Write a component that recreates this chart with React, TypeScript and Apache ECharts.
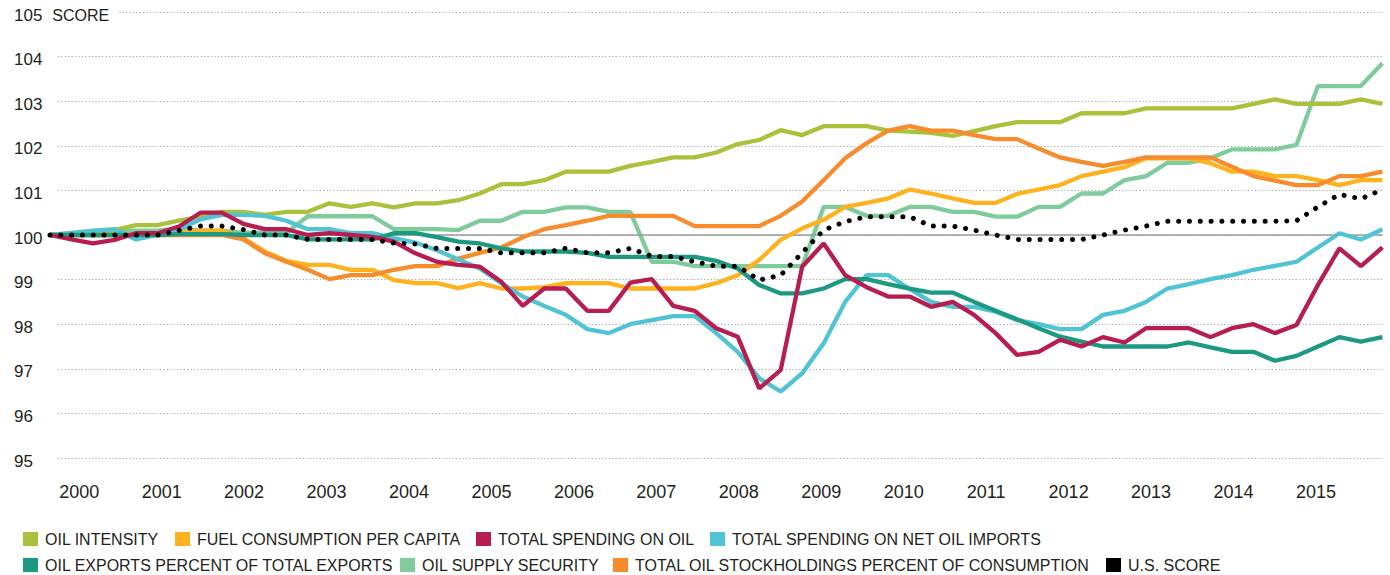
import React, { useEffect, useRef } from "react";
import * as echarts from "echarts";

// ---------- data ----------
const YEAR_LABELS = [2000, 2001, 2002, 2003, 2004, 2005, 2006, 2007, 2008, 2009, 2010, 2011, 2012, 2013, 2014, 2015];
const Y_UNIT = "SCORE";
const Y_MIN = 95;
const Y_MAX = 105;

const QUARTERS: string[] = [];
for (const y of YEAR_LABELS) for (const q of [1, 2, 3, 4]) if (QUARTERS.length < 63) QUARTERS.push(`${y} Q${q}`);

const OIL_INTENSITY = [
  100.0, 100.0, 100.05, 100.11, 100.22, 100.22, 100.32, 100.41, 100.52, 100.52, 100.45, 100.52, 100.52, 100.71, 100.63, 100.71,
  100.62, 100.71, 100.71, 100.78, 100.93, 101.14, 101.14, 101.23, 101.42, 101.42, 101.42, 101.55, 101.64, 101.74, 101.74, 101.85,
  102.04, 102.13, 102.35, 102.24, 102.44, 102.44, 102.44, 102.34, 102.32, 102.29, 102.22, 102.33, 102.44, 102.53, 102.53, 102.53,
  102.73, 102.73, 102.73, 102.84, 102.84, 102.84, 102.84, 102.84, 102.94, 103.04, 102.94, 102.94, 102.94, 103.04, 102.94,
];
const FUEL_CONSUMPTION = [
  100.0, 100.0, 100.0, 100.0, 100.0, 100.0, 100.05, 100.1, 100.1, 99.93, 99.63, 99.42, 99.33, 99.33, 99.22, 99.22,
  98.99, 98.92, 98.92, 98.81, 98.92, 98.8, 98.8, 98.83, 98.92, 98.92, 98.92, 98.8, 98.8, 98.8, 98.8, 98.92,
  99.1, 99.44, 99.89, 100.15, 100.34, 100.63, 100.72, 100.82, 101.02, 100.93, 100.82, 100.72, 100.72, 100.92, 101.02, 101.12,
  101.32, 101.42, 101.52, 101.72, 101.72, 101.72, 101.61, 101.42, 101.42, 101.32, 101.32, 101.23, 101.12, 101.23, 101.23,
];
const SPENDING_ON_OIL = [
  100.0, 99.9, 99.81, 99.89, 100.04, 100.04, 100.19, 100.5, 100.5, 100.25, 100.13, 100.13, 100.0, 100.04, 100.0, 99.96,
  99.85, 99.59, 99.4, 99.33, 99.29, 98.95, 98.41, 98.8, 98.8, 98.3, 98.3, 98.93, 99.01, 98.41, 98.3, 97.91,
  97.72, 96.56, 96.97, 99.29, 99.81, 99.1, 98.83, 98.62, 98.62, 98.39, 98.5, 98.21, 97.8, 97.31, 97.38, 97.65,
  97.5, 97.71, 97.59, 97.91, 97.91, 97.91, 97.71, 97.91, 98.0, 97.8, 97.98, 98.88, 99.7, 99.3, 99.72,
];
const SPENDING_NET_IMPORTS = [
  100.0, 100.05, 100.1, 100.13, 99.9, 100.0, 100.13, 100.35, 100.45, 100.45, 100.43, 100.32, 100.13, 100.13, 100.04, 100.04,
  99.93, 99.83, 99.66, 99.45, 99.25, 98.92, 98.62, 98.41, 98.21, 97.89, 97.8, 98.0, 98.09, 98.18, 98.18, 97.8,
  97.38, 96.79, 96.49, 96.9, 97.57, 98.5, 99.1, 99.1, 98.79, 98.5, 98.39, 98.39, 98.28, 98.09, 98.0, 97.89,
  97.89, 98.21, 98.3, 98.5, 98.8, 98.9, 99.01, 99.1, 99.22, 99.31, 99.4, 99.72, 100.04, 99.9, 100.13,
];
const OIL_EXPORTS = [
  100.0, 100.0, 100.0, 100.0, 100.0, 100.0, 100.02, 100.02, 100.02, 100.0, 100.0, 100.0, 99.9, 99.9, 99.9, 99.9,
  100.04, 100.04, 99.95, 99.85, 99.81, 99.7, 99.63, 99.63, 99.63, 99.6, 99.51, 99.51, 99.51, 99.51, 99.51, 99.42,
  99.25, 98.88, 98.69, 98.69, 98.8, 99.01, 99.01, 98.9, 98.8, 98.71, 98.71, 98.5, 98.3, 98.11, 97.91, 97.72,
  97.61, 97.5, 97.5, 97.5, 97.5, 97.59, 97.48, 97.38, 97.38, 97.18, 97.29, 97.5, 97.71, 97.61, 97.71,
];
const SUPPLY_SECURITY = [
  100.0, 100.0, 100.05, 100.1, 100.1, 100.1, 100.15, 100.1, 100.1, 100.05, 100.05, 100.05, 100.42, 100.42, 100.42, 100.42,
  100.13, 100.13, 100.13, 100.11, 100.32, 100.32, 100.52, 100.52, 100.62, 100.62, 100.52, 100.52, 99.4, 99.4, 99.3, 99.3,
  99.3, 99.3, 99.3, 99.3, 100.63, 100.63, 100.43, 100.43, 100.63, 100.63, 100.52, 100.52, 100.41, 100.41, 100.63, 100.63,
  100.93, 100.93, 101.23, 101.32, 101.62, 101.62, 101.72, 101.92, 101.92, 101.92, 102.02, 103.34, 103.34, 103.34, 103.85,
];
const STOCKHOLDINGS = [
  100.0, 100.0, 100.0, 100.0, 100.0, 100.0, 100.0, 100.0, 100.0, 99.9, 99.59, 99.4, 99.22, 99.01, 99.1, 99.1,
  99.22, 99.3, 99.3, 99.47, 99.6, 99.72, 99.95, 100.13, 100.22, 100.32, 100.43, 100.43, 100.43, 100.43, 100.2, 100.2,
  100.2, 100.2, 100.43, 100.75, 101.23, 101.72, 102.06, 102.34, 102.44, 102.34, 102.34, 102.24, 102.15, 102.15, 101.94, 101.74,
  101.64, 101.55, 101.64, 101.74, 101.74, 101.74, 101.74, 101.53, 101.32, 101.22, 101.12, 101.12, 101.32, 101.32, 101.42,
];
const US_SCORE = [
  100.0, 100.0, 100.0, 100.0, 100.0, 100.0, 100.1, 100.2, 100.2, 100.12, 100.0, 100.0, 99.9, 99.9, 99.9, 99.9,
  99.82, 99.8, 99.7, 99.7, 99.7, 99.6, 99.6, 99.6, 99.7, 99.6, 99.6, 99.7, 99.52, 99.52, 99.4, 99.3,
  99.3, 98.99, 99.1, 99.6, 100.11, 100.3, 100.41, 100.41, 100.41, 100.2, 100.2, 100.11, 100.0, 99.9, 99.9, 99.9,
  99.9, 100.0, 100.11, 100.2, 100.31, 100.31, 100.31, 100.31, 100.31, 100.31, 100.32, 100.63, 100.91, 100.81, 101.02,
];
const BASELINE = 100;

// ---------- series definitions (draw order bottom -> top) ----------
const SERIES_DEFS = [
  { name: "OIL SUPPLY SECURITY", color: "#80cb9c", data: SUPPLY_SECURITY },
  { name: "OIL INTENSITY", color: "#a9c13b", data: OIL_INTENSITY },
  { name: "FUEL CONSUMPTION PER CAPITA", color: "#fdb21e", data: FUEL_CONSUMPTION },
  { name: "TOTAL OIL STOCKHOLDINGS PERCENT OF CONSUMPTION", color: "#f68c2d", data: STOCKHOLDINGS },
  { name: "TOTAL SPENDING ON NET OIL IMPORTS", color: "#50c4d5", data: SPENDING_NET_IMPORTS },
  { name: "OIL EXPORTS PERCENT OF TOTAL EXPORTS", color: "#1b9a81", data: OIL_EXPORTS },
  { name: "TOTAL SPENDING ON OIL", color: "#b61d51", data: SPENDING_ON_OIL },
  { name: "U.S. SCORE", color: "#000000", data: US_SCORE },
];

// legend order and placement (layout, not data)
const LEGEND_LAYOUT = [
  { name: "OIL INTENSITY", left: 23, top: 529 },
  { name: "FUEL CONSUMPTION PER CAPITA", left: 175, top: 529 },
  { name: "TOTAL SPENDING ON OIL", left: 476, top: 529 },
  { name: "TOTAL SPENDING ON NET OIL IMPORTS", left: 710, top: 529 },
  { name: "OIL EXPORTS PERCENT OF TOTAL EXPORTS", left: 23, top: 555 },
  { name: "OIL SUPPLY SECURITY", left: 400, top: 555 },
  { name: "TOTAL OIL STOCKHOLDINGS PERCENT OF CONSUMPTION", left: 613, top: 555 },
  { name: "U.S. SCORE", left: 1106, top: 555 },
];

const TEXT_COLOR = "#231f20";
const AXIS_FONT = '"Liberation Sans", Arial, sans-serif';
const LEGEND_FONT = '"Liberation Sans", Arial, sans-serif';

export default function App() {
  const ref = useRef<HTMLDivElement>(null);

  useEffect(() => {
    document.body.style.margin = "0";
    if (!ref.current) return;
    const chart = echarts.init(ref.current, undefined, { renderer: "svg" });

    const series: any[] = SERIES_DEFS.map((s, idx) => {
      const isUS = s.name === "U.S. SCORE";
      const base: any = {
        name: s.name,
        type: "line",
        xAxisIndex: 0,
        yAxisIndex: 0,
        data: s.data,
        symbol: "none",
        showSymbol: false,
        silent: true,
        z: 3 + idx,
        itemStyle: { color: s.color },
        lineStyle: isUS
          ? { color: s.color, width: 5, type: [0.01, 10.8], cap: "round" }
          : { color: s.color, width: 4.3 },
        emphasis: { disabled: true },
      };
      if (idx === 0) {
        base.markLine = {
          silent: true,
          symbol: ["none", "none"],
          label: { show: false },
          lineStyle: { color: "#9b9b9b", type: "solid", width: 1.6 },
          emphasis: { disabled: true },
          data: [{ yAxis: BASELINE }],
        };
      }
      return base;
    });

    const legends = LEGEND_LAYOUT.map((l) => ({
      data: [l.name],
      left: l.left,
      top: l.top,
      padding: 0,
      icon: "rect",
      itemWidth: 15,
      itemHeight: 14,
      itemGap: 0,
      selectedMode: false,
      itemStyle: { borderWidth: 0 },
      textStyle: {
        fontFamily: LEGEND_FONT,
        fontSize: 16,
        color: TEXT_COLOR,
        lineHeight: 20,
        padding: [0, 0, 0, 2],
      },
    }));

    chart.setOption({
      animation: false,
      backgroundColor: "#ffffff",
      grid: [
        { left: 50, right: 7.6, top: 12, height: 446 },
        { left: 58, right: 7, top: 12, height: 446 },
      ],
      xAxis: [
        {
          type: "category",
          gridIndex: 0,
          data: QUARTERS,
          boundaryGap: false,
          show: false,
        },
        {
          type: "value",
          gridIndex: 1,
          min: 1999.743,
          max: 2015.813,
          axisLine: { show: false },
          axisTick: { show: false },
          splitLine: { show: false },
          axisLabel: {
            customValues: YEAR_LABELS,
            margin: 25,
            fontSize: 18,
            fontFamily: AXIS_FONT,
            color: TEXT_COLOR,
            formatter: (v: number) => String(v),
          },
        },
      ],
      yAxis: [
        { type: "value", gridIndex: 0, min: Y_MIN, max: Y_MAX, show: false },
        {
          type: "value",
          gridIndex: 1,
          min: Y_MIN,
          max: Y_MAX,
          interval: 1,
          axisLine: { show: false },
          axisTick: { show: false },
          splitLine: { lineStyle: { color: "#a3a3a3", type: [1.2, 2.2], width: 1.2 } },
          axisLabel: {
            align: "left",
            margin: 44,
            padding: [6, 0, 0, 0],
            formatter: (v: number) => (v === Y_MAX ? `{n|${v}}{u|${Y_UNIT}}` : `{n|${v}}`),
            rich: {
              n: { fontSize: 17, fontFamily: AXIS_FONT, color: TEXT_COLOR },
              u: {
                fontSize: 16,
                fontFamily: AXIS_FONT,
                color: TEXT_COLOR,
                backgroundColor: "#ffffff",
                padding: [2, 10, 2, 10],
              },
            },
          },
        },
      ],
      legend: legends,
      series,
    });

    return () => chart.dispose();
  }, []);

  return <div ref={ref} style={{ width: 1390, height: 575 }} />;
}
